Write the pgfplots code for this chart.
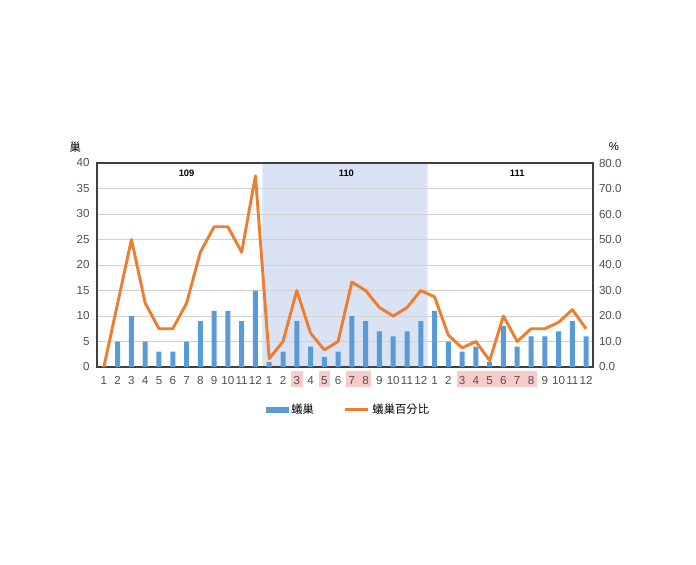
\documentclass[border=0pt]{standalone}
\usepackage{pgfplots}
\pgfplotsset{compat=1.18}
\usepackage{pgfplotstable}
\usepackage{fontspec}
\setmainfont{Liberation Sans}
\newfontfamily\cjk{Noto Sans CJK TC}

\definecolor{barblue}{HTML}{5B9BD5}
\definecolor{lineorange}{HTML}{ED7D31}
\definecolor{shade}{HTML}{DAE3F3}
\definecolor{hl}{HTML}{F8CBCB}
\definecolor{txt}{HTML}{505050}

% x = month index (109/1 .. 111/12), n = nests, p = percent
\pgfplotstableread{
x n p
0 0 0
1 5 25
2 10 50
3 5 25
4 3 15
5 3 15
6 5 25
7 9 45
8 11 55
9 11 55
10 9 45
11 15 75
12 1 3.3
13 3 10.0
14 9 30.0
15 4 13.3
16 2 6.7
17 3 10.0
18 10 33.3
19 9 30.0
20 7 23.3
21 6 20.0
22 7 23.3
23 9 30.0
24 11 27.5
25 5 12.5
26 3 7.5
27 4 10.0
28 1 2.5
29 8 20.0
30 4 10.0
31 6 15.0
32 6 15.0
33 7 17.5
34 9 22.5
35 6 15.0
}\data

\pgfplotsset{
  common/.style={
    scale only axis, width=372pt, height=153pt,
    xmin=-0.5, xmax=35.5,
    major tick length=0pt,
    tick label style={font=\fontsize{8.7}{10}\selectfont, text=txt},
    /pgf/number format/assume math mode=true,
  },
}

\begin{document}
\begin{tikzpicture}
  \begin{axis}[common, name=ax, set layers, clip=false,
    ymin=0, ymax=40, ytick={0,5,...,40},
    xtick={0,...,35},
    xticklabels={1,2,3,4,5,6,7,8,9,10,11,12,1,2,3,4,5,6,7,8,9,10,11,12,1,2,3,4,5,6,7,8,9,10,11,12},
    xticklabel style={yshift=-3.2pt, text height=6.3pt, text depth=0pt},
    yticklabel style={xshift=-2pt},
    ymajorgrids, grid style={draw=black!18, line width=0.6pt},
    axis line style={draw=black!75, line width=1.1pt},
    ]
    \addplot[fill=shade, draw=none, on layer=axis background]
      coordinates {(11.5,0) (11.5,40) (23.5,40) (23.5,0)} \closedcycle;
    \begin{pgfonlayer}{axis background}
      \fill[hl] (axis cs:13.58,-0.8) rectangle (axis cs:14.42,-3.95);
      \fill[hl] (axis cs:15.58,-0.8) rectangle (axis cs:16.42,-3.95);
      \fill[hl] (axis cs:17.58,-0.8) rectangle (axis cs:19.42,-3.95);
      \fill[hl] (axis cs:25.62,-0.8) rectangle (axis cs:31.45,-3.95);
    \end{pgfonlayer}
    \addplot[ybar, bar width=3.75pt, fill=barblue, draw=none] table[x=x, y=n] {\data};
    \node[font=\bfseries\fontsize{7}{8}\selectfont] at (axis cs:6,38) {109};
    \node[font=\bfseries\fontsize{7}{8}\selectfont] at (axis cs:17.6,38) {110};
    \node[font=\bfseries\fontsize{7}{8}\selectfont] at (axis cs:30,38) {111};
    \node[font=\cjk\fontsize{8.5}{10}\selectfont] at (rel axis cs:-0.044,1.078) {巢};
    \node[font=\fontsize{8.5}{10}\selectfont] at (rel axis cs:1.042,1.078) {\%};
  \end{axis}
  \begin{axis}[common,
    ymin=0, ymax=80, ytick={0,10,...,80},
    axis y line*=right, axis x line=none,
    y axis line style={draw=none},
    yticklabel style={xshift=1pt, /pgf/number format/.cd, fixed, fixed zerofill, precision=1},
    legend style={at={(0.508,-0.21)}, anchor=center, draw=none, fill=none,
      legend columns=2, font=\cjk\fontsize{8.5}{10}\selectfont,
      /tikz/every even column/.append style={column sep=20pt}},
    ]
    \addlegendimage{legend image code/.code={\fill[barblue] (0cm,-0.07cm) rectangle (0.58cm,0.07cm);}}
    \addlegendentry{蟻巢}
    \addplot[lineorange, line width=2.2pt, line join=round,
      legend image code/.code={\draw[lineorange, line width=2.2pt] (0cm,0cm) -- (0.62cm,0cm);}]
      table[x=x, y=p] {\data};
    \addlegendentry{蟻巢百分比}
  \end{axis}
  \path[use as bounding box] ([xshift=-72.75pt,yshift=-147.75pt]ax.south west)
    rectangle ([xshift=77.25pt,yshift=122.25pt]ax.north east);
\end{tikzpicture}
\end{document}
